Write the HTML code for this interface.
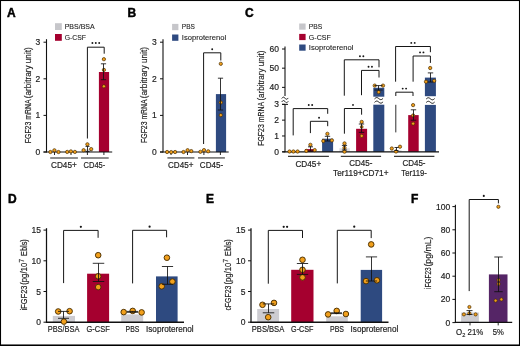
<!DOCTYPE html><html><head><meta charset="utf-8"><style>html,body{margin:0;padding:0;background:#fff;}svg{display:block;will-change:transform;font-family:"Liberation Sans",sans-serif;}</style></head><body><svg width="520" height="346" viewBox="0 0 520 346">
<rect x="0" y="0" width="520" height="346" fill="#fff"/>
<rect x="55" y="23.2" width="6.8" height="6.8" fill="#c6c6ca"/>
<rect x="55" y="34" width="6.8" height="6.8" fill="#a5002f"/>
<rect x="82.6" y="149.4" width="10" height="2.6" fill="#cdccd1"/>
<rect x="98.9" y="72" width="10.2" height="80" fill="#a5002f"/>
<rect x="172.1" y="23.9" width="6.3" height="6.3" fill="#c6c6ca"/>
<rect x="172.1" y="34.5" width="6.3" height="6.3" fill="#2e4a80"/>
<rect x="215.9" y="94.1" width="10.2" height="58" fill="#2e4a80"/>
<rect x="299.2" y="23.5" width="6.4" height="6.2" fill="#c6c6ca"/>
<rect x="299.2" y="33.9" width="6.4" height="6.2" fill="#a5002f"/>
<rect x="299.2" y="44.5" width="6.4" height="6.2" fill="#2e4a80"/>
<rect x="305.2" y="149.1" width="10.7" height="2.8" fill="#a5002f"/>
<rect x="322.1" y="138.7" width="11" height="13.2" fill="#2e4a80"/>
<rect x="339.3" y="148.2" width="10.5" height="3.7" fill="#e0e0e4"/>
<rect x="356.1" y="128.8" width="11" height="23.1" fill="#a5002f"/>
<rect x="373.3" y="87.8" width="11" height="8.9" fill="#2e4a80"/>
<rect x="373.3" y="104.7" width="11" height="47.2" fill="#2e4a80"/>
<rect x="390.5" y="150" width="11" height="1.9" fill="#e0e0e4"/>
<rect x="408.2" y="115.1" width="10.5" height="36.8" fill="#a5002f"/>
<rect x="424.9" y="77.6" width="11" height="18.6" fill="#2e4a80"/>
<rect x="424.9" y="104.9" width="11" height="47" fill="#2e4a80"/>
<rect x="52.8" y="315.9" width="22.2" height="6.3" fill="#cdccd1"/>
<rect x="87.1" y="273.7" width="22" height="48.5" fill="#a5002f"/>
<rect x="121.2" y="314.4" width="22" height="7.8" fill="#cdccd1"/>
<rect x="156" y="276.4" width="21.6" height="45.8" fill="#2e4a80"/>
<rect x="257.2" y="309" width="21.9" height="13.2" fill="#cdccd1"/>
<rect x="291.2" y="269.8" width="22.3" height="52.4" fill="#a5002f"/>
<rect x="326.2" y="316.3" width="21.6" height="5.9" fill="#cdccd1"/>
<rect x="360.7" y="269.9" width="21.4" height="52.3" fill="#2e4a80"/>
<rect x="461.1" y="312.5" width="17.8" height="9.9" fill="#cdccd1"/>
<rect x="488.9" y="274.4" width="18.6" height="48" fill="#552566"/>
<line x1="46.5" y1="39.2" x2="46.5" y2="152.5" stroke="#111111" stroke-width="1.1"/>
<line x1="43.5" y1="152.0" x2="46.5" y2="152.0" stroke="#111111" stroke-width="1.0"/>
<line x1="43.5" y1="115.4" x2="46.5" y2="115.4" stroke="#111111" stroke-width="1.0"/>
<line x1="43.5" y1="78.8" x2="46.5" y2="78.8" stroke="#111111" stroke-width="1.0"/>
<line x1="43.5" y1="42.19999999999999" x2="46.5" y2="42.19999999999999" stroke="#111111" stroke-width="1.0"/>
<line x1="43.5" y1="152.0" x2="112.2" y2="152.0" stroke="#111111" stroke-width="1.2"/>
<line x1="54.5" y1="152.0" x2="54.5" y2="155.0" stroke="#111111" stroke-width="0.9"/>
<line x1="71.0" y1="152.0" x2="71.0" y2="155.0" stroke="#111111" stroke-width="0.9"/>
<line x1="87.4" y1="152.0" x2="87.4" y2="155.0" stroke="#111111" stroke-width="0.9"/>
<line x1="103.9" y1="152.0" x2="103.9" y2="155.0" stroke="#111111" stroke-width="0.9"/>
<polyline points="87.4,138.5 87.4,47.2 104.2,47.2 104.2,53.7" fill="none" stroke="#161616" stroke-width="1.0"/>
<circle cx="92.4" cy="43.00" r="0.95" fill="#161616"/>
<circle cx="95.80000000000001" cy="43.00" r="0.95" fill="#161616"/>
<circle cx="99.20000000000002" cy="43.00" r="0.95" fill="#161616"/>
<line x1="50.2" y1="158" x2="77.9" y2="158" stroke="#7a7a7a" stroke-width="1.7"/>
<line x1="81" y1="158" x2="108.7" y2="158" stroke="#7a7a7a" stroke-width="1.7"/>
<line x1="163.0" y1="39.2" x2="163.0" y2="152.5" stroke="#111111" stroke-width="1.1"/>
<line x1="160.0" y1="152.0" x2="163.0" y2="152.0" stroke="#111111" stroke-width="1.0"/>
<line x1="160.0" y1="115.4" x2="163.0" y2="115.4" stroke="#111111" stroke-width="1.0"/>
<line x1="160.0" y1="78.8" x2="163.0" y2="78.8" stroke="#111111" stroke-width="1.0"/>
<line x1="160.0" y1="42.19999999999999" x2="163.0" y2="42.19999999999999" stroke="#111111" stroke-width="1.0"/>
<line x1="160.0" y1="152.0" x2="228.7" y2="152.0" stroke="#111111" stroke-width="1.2"/>
<line x1="171.0" y1="152.0" x2="171.0" y2="155.0" stroke="#111111" stroke-width="0.9"/>
<line x1="187.5" y1="152.0" x2="187.5" y2="155.0" stroke="#111111" stroke-width="0.9"/>
<line x1="203.9" y1="152.0" x2="203.9" y2="155.0" stroke="#111111" stroke-width="0.9"/>
<line x1="220.4" y1="152.0" x2="220.4" y2="155.0" stroke="#111111" stroke-width="0.9"/>
<polyline points="203.6,144 203.6,52.8 220.8,52.8 220.8,60.5" fill="none" stroke="#161616" stroke-width="1.0"/>
<circle cx="212.2" cy="49.20" r="0.95" fill="#161616"/>
<line x1="167.4" y1="157.9" x2="194.4" y2="157.9" stroke="#7a7a7a" stroke-width="1.7"/>
<line x1="198" y1="157.9" x2="224.9" y2="157.9" stroke="#7a7a7a" stroke-width="1.7"/>
<line x1="285.0" y1="46.6" x2="285.0" y2="96.0" stroke="#111111" stroke-width="1.1"/>
<line x1="285.0" y1="104.4" x2="285.0" y2="152.3" stroke="#111111" stroke-width="1.1"/>
<line x1="282.0" y1="49.0" x2="285.0" y2="49.0" stroke="#111111" stroke-width="1.0"/>
<line x1="282.0" y1="68.18" x2="285.0" y2="68.18" stroke="#111111" stroke-width="1.0"/>
<line x1="282.0" y1="87.36" x2="285.0" y2="87.36" stroke="#111111" stroke-width="1.0"/>
<line x1="282.0" y1="104.31" x2="285.0" y2="104.31" stroke="#111111" stroke-width="1.0"/>
<line x1="282.0" y1="120.14000000000001" x2="285.0" y2="120.14000000000001" stroke="#111111" stroke-width="1.0"/>
<line x1="282.0" y1="135.97" x2="285.0" y2="135.97" stroke="#111111" stroke-width="1.0"/>
<line x1="282.0" y1="151.8" x2="285.0" y2="151.8" stroke="#111111" stroke-width="1.0"/>
<polyline points="281.75,98.45 282.16,97.98 282.56,97.57 282.97,97.29 283.38,97.17 283.78,97.23 284.19,97.45 284.59,97.79 285.00,98.20 285.41,98.61 285.81,98.95 286.22,99.17 286.62,99.23 287.03,99.11 287.44,98.83 287.84,98.42 288.25,97.95" fill="none" stroke="#111" stroke-width="1.0" stroke-linejoin="round"/>
<polyline points="281.75,101.85 282.16,101.38 282.56,100.97 282.97,100.69 283.38,100.57 283.78,100.63 284.19,100.85 284.59,101.19 285.00,101.60 285.41,102.01 285.81,102.35 286.22,102.57 286.62,102.62 287.03,102.51 287.44,102.23 287.84,101.82 288.25,101.35" fill="none" stroke="#111" stroke-width="1.0" stroke-linejoin="round"/>
<line x1="282.0" y1="104.4" x2="288.0" y2="104.4" stroke="#111111" stroke-width="1.0"/>
<line x1="282.3" y1="151.9" x2="439" y2="151.9" stroke="#111111" stroke-width="1.1"/>
<polyline points="293.2,135.4 293.2,108.6 327.7,108.6 327.7,113.8" fill="none" stroke="#161616" stroke-width="1.0"/>
<circle cx="308.75" cy="105.00" r="0.95" fill="#161616"/>
<circle cx="312.15" cy="105.00" r="0.95" fill="#161616"/>
<polyline points="310.4,133.1 310.4,121.3 327.7,121.3 327.7,126.2" fill="none" stroke="#161616" stroke-width="1.0"/>
<circle cx="319.04999999999995" cy="117.70" r="0.95" fill="#161616"/>
<polyline points="374.55,98.85 375.08,98.38 375.61,97.97 376.14,97.69 376.68,97.57 377.21,97.63 377.74,97.85 378.27,98.19 378.80,98.60 379.33,99.01 379.86,99.35 380.39,99.57 380.93,99.62 381.46,99.51 381.99,99.23 382.52,98.82 383.05,98.35" fill="none" stroke="#111" stroke-width="1.0" stroke-linejoin="round"/>
<polyline points="374.55,102.35 375.08,101.88 375.61,101.47 376.14,101.19 376.68,101.07 377.21,101.13 377.74,101.35 378.27,101.69 378.80,102.10 379.33,102.51 379.86,102.85 380.39,103.07 380.93,103.12 381.46,103.01 381.99,102.73 382.52,102.32 383.05,101.85" fill="none" stroke="#111" stroke-width="1.0" stroke-linejoin="round"/>
<polyline points="344.3,95.7 344.3,59.8 379,59.8 379,67.3" fill="none" stroke="#161616" stroke-width="1.0"/>
<circle cx="359.95" cy="56.20" r="0.95" fill="#161616"/>
<circle cx="363.34999999999997" cy="56.20" r="0.95" fill="#161616"/>
<polyline points="361.5,95.2 361.5,70.4 379,70.4 379,77.5" fill="none" stroke="#161616" stroke-width="1.0"/>
<circle cx="368.55" cy="66.80" r="0.95" fill="#161616"/>
<circle cx="371.95" cy="66.80" r="0.95" fill="#161616"/>
<polyline points="344.4,133.7 344.4,108.5 361.6,108.5 361.6,114.7" fill="none" stroke="#161616" stroke-width="1.0"/>
<circle cx="353.0" cy="104.90" r="0.95" fill="#161616"/>
<polyline points="426.15,99.05 426.68,98.58 427.21,98.17 427.74,97.89 428.27,97.77 428.81,97.83 429.34,98.05 429.87,98.39 430.40,98.80 430.93,99.21 431.46,99.55 431.99,99.77 432.52,99.83 433.06,99.71 433.59,99.43 434.12,99.02 434.65,98.55" fill="none" stroke="#111" stroke-width="1.0" stroke-linejoin="round"/>
<polyline points="426.15,102.55 426.68,102.08 427.21,101.67 427.74,101.39 428.27,101.27 428.81,101.33 429.34,101.55 429.87,101.89 430.40,102.30 430.93,102.71 431.46,103.05 431.99,103.27 432.52,103.33 433.06,103.21 433.59,102.93 434.12,102.52 434.65,102.05" fill="none" stroke="#111" stroke-width="1.0" stroke-linejoin="round"/>
<polyline points="395.6,81.7 395.6,46.5 430.4,46.5 430.4,52.2" fill="none" stroke="#161616" stroke-width="1.0"/>
<circle cx="411.3" cy="42.90" r="0.95" fill="#161616"/>
<circle cx="414.7" cy="42.90" r="0.95" fill="#161616"/>
<polyline points="413.1,81.7 413.1,56.0 430.4,56.0 430.4,62.9" fill="none" stroke="#161616" stroke-width="1.0"/>
<circle cx="420.05" cy="52.40" r="0.95" fill="#161616"/>
<circle cx="423.45" cy="52.40" r="0.95" fill="#161616"/>
<polyline points="395.8,96.0 395.8,92.2 413.0,92.2 413.0,96.0" fill="none" stroke="#161616" stroke-width="1.0"/>
<circle cx="402.7" cy="88.60" r="0.95" fill="#161616"/>
<circle cx="406.09999999999997" cy="88.60" r="0.95" fill="#161616"/>
<line x1="395.8" y1="104.8" x2="395.8" y2="132.4" stroke="#161616" stroke-width="0.9"/>
<line x1="288" y1="156.4" x2="328.9" y2="156.4" stroke="#383838" stroke-width="1.3"/>
<line x1="340.8" y1="156.4" x2="381.1" y2="156.4" stroke="#383838" stroke-width="1.3"/>
<line x1="394" y1="156.4" x2="434.4" y2="156.4" stroke="#383838" stroke-width="1.3"/>
<line x1="46.5" y1="228.2" x2="46.5" y2="322.8" stroke="#111111" stroke-width="1.25"/>
<line x1="43.5" y1="322.2" x2="46.5" y2="322.2" stroke="#111111" stroke-width="1.0"/>
<line x1="43.5" y1="291.5" x2="46.5" y2="291.5" stroke="#111111" stroke-width="1.0"/>
<line x1="43.5" y1="260.8" x2="46.5" y2="260.8" stroke="#111111" stroke-width="1.0"/>
<line x1="43.5" y1="230.1" x2="46.5" y2="230.1" stroke="#111111" stroke-width="1.0"/>
<line x1="45.9" y1="322.2" x2="184.0" y2="322.2" stroke="#111111" stroke-width="1.35"/>
<polyline points="63.6,283.1 63.6,230.4 98.1,230.4 98.1,237.8" fill="none" stroke="#161616" stroke-width="1.0"/>
<circle cx="80.85" cy="226.80" r="1.12" fill="#161616"/>
<polyline points="132.6,283.4 132.6,230.3 166.6,230.3 166.6,237.3" fill="none" stroke="#161616" stroke-width="1.0"/>
<circle cx="149.6" cy="226.70" r="1.12" fill="#161616"/>
<line x1="251.0" y1="228.2" x2="251.0" y2="322.8" stroke="#111111" stroke-width="1.25"/>
<line x1="248.0" y1="322.2" x2="251.0" y2="322.2" stroke="#111111" stroke-width="1.0"/>
<line x1="248.0" y1="291.5" x2="251.0" y2="291.5" stroke="#111111" stroke-width="1.0"/>
<line x1="248.0" y1="260.8" x2="251.0" y2="260.8" stroke="#111111" stroke-width="1.0"/>
<line x1="248.0" y1="230.1" x2="251.0" y2="230.1" stroke="#111111" stroke-width="1.0"/>
<line x1="250.4" y1="322.2" x2="388.5" y2="322.2" stroke="#111111" stroke-width="1.35"/>
<polyline points="268.3,283.7 268.3,230.4 302.5,230.4 302.5,238" fill="none" stroke="#161616" stroke-width="1.0"/>
<circle cx="283.7" cy="226.80" r="1.12" fill="#161616"/>
<circle cx="287.09999999999997" cy="226.80" r="1.12" fill="#161616"/>
<polyline points="337.3,283.4 337.3,230.3 371.2,230.3 371.2,238.1" fill="none" stroke="#161616" stroke-width="1.0"/>
<circle cx="354.25" cy="226.70" r="1.12" fill="#161616"/>
<line x1="455.4" y1="204.7" x2="455.4" y2="323" stroke="#111111" stroke-width="1.1"/>
<line x1="452.4" y1="322.6" x2="455.4" y2="322.6" stroke="#111111" stroke-width="1.0"/>
<line x1="452.4" y1="299.40000000000003" x2="455.4" y2="299.40000000000003" stroke="#111111" stroke-width="1.0"/>
<line x1="452.4" y1="276.20000000000005" x2="455.4" y2="276.20000000000005" stroke="#111111" stroke-width="1.0"/>
<line x1="452.4" y1="253.00000000000003" x2="455.4" y2="253.00000000000003" stroke="#111111" stroke-width="1.0"/>
<line x1="452.4" y1="229.8" x2="455.4" y2="229.8" stroke="#111111" stroke-width="1.0"/>
<line x1="452.4" y1="206.60000000000002" x2="455.4" y2="206.60000000000002" stroke="#111111" stroke-width="1.0"/>
<line x1="454.79999999999995" y1="322.4" x2="512.2" y2="322.4" stroke="#111111" stroke-width="1.35"/>
<line x1="470" y1="322.4" x2="470" y2="325.4" stroke="#111111" stroke-width="0.9"/>
<line x1="498.2" y1="322.4" x2="498.2" y2="325.4" stroke="#111111" stroke-width="0.9"/>
<polyline points="469.2,291.1 469.2,199.5 498.4,199.5 498.4,203.4" fill="none" stroke="#161616" stroke-width="1.0"/>
<circle cx="483.79999999999995" cy="195.90" r="1.05" fill="#161616"/>
<circle cx="50.4" cy="152" r="1.65" fill="#f2a01c" stroke="#4a2e00" stroke-width="0.7"/>
<circle cx="54.4" cy="150.3" r="1.65" fill="#f2a01c" stroke="#4a2e00" stroke-width="0.7"/>
<circle cx="58.5" cy="152" r="1.65" fill="#f2a01c" stroke="#4a2e00" stroke-width="0.7"/>
<circle cx="67.2" cy="151.9" r="1.65" fill="#f2a01c" stroke="#4a2e00" stroke-width="0.7"/>
<circle cx="70.9" cy="151.4" r="1.65" fill="#f2a01c" stroke="#4a2e00" stroke-width="0.7"/>
<circle cx="74.9" cy="151.9" r="1.65" fill="#f2a01c" stroke="#4a2e00" stroke-width="0.7"/>
<circle cx="83.6" cy="150.2" r="1.65" fill="#f2a01c" stroke="#4a2e00" stroke-width="0.7"/>
<circle cx="87.4" cy="144.3" r="1.65" fill="#f2a01c" stroke="#4a2e00" stroke-width="0.7"/>
<circle cx="91.2" cy="149.1" r="1.65" fill="#f2a01c" stroke="#4a2e00" stroke-width="0.7"/>
<circle cx="103.9" cy="59.2" r="1.65" fill="#f2a01c" stroke="#4a2e00" stroke-width="0.7"/>
<circle cx="103.9" cy="69.9" r="1.65" fill="#f2a01c" stroke="#4a2e00" stroke-width="0.7"/>
<circle cx="103.9" cy="86.3" r="1.65" fill="#f2a01c" stroke="#4a2e00" stroke-width="0.7"/>
<circle cx="167.1" cy="152" r="1.65" fill="#f2a01c" stroke="#4a2e00" stroke-width="0.7"/>
<circle cx="171.2" cy="152.1" r="1.65" fill="#f2a01c" stroke="#4a2e00" stroke-width="0.7"/>
<circle cx="175.1" cy="152" r="1.65" fill="#f2a01c" stroke="#4a2e00" stroke-width="0.7"/>
<circle cx="183.5" cy="152" r="1.65" fill="#f2a01c" stroke="#4a2e00" stroke-width="0.7"/>
<circle cx="187.6" cy="150.2" r="1.65" fill="#f2a01c" stroke="#4a2e00" stroke-width="0.7"/>
<circle cx="191.3" cy="151.1" r="1.65" fill="#f2a01c" stroke="#4a2e00" stroke-width="0.7"/>
<circle cx="200.4" cy="151.8" r="1.65" fill="#f2a01c" stroke="#4a2e00" stroke-width="0.7"/>
<circle cx="204.0" cy="150.1" r="1.65" fill="#f2a01c" stroke="#4a2e00" stroke-width="0.7"/>
<circle cx="208.2" cy="151.3" r="1.65" fill="#f2a01c" stroke="#4a2e00" stroke-width="0.7"/>
<circle cx="220.8" cy="63.8" r="1.65" fill="#f2a01c" stroke="#4a2e00" stroke-width="0.7"/>
<circle cx="220.8" cy="102.5" r="1.65" fill="#f2a01c" stroke="#4a2e00" stroke-width="0.7"/>
<circle cx="220.8" cy="115.1" r="1.65" fill="#f2a01c" stroke="#4a2e00" stroke-width="0.7"/>
<circle cx="289.5" cy="151.5" r="1.65" fill="#f2a01c" stroke="#4a2e00" stroke-width="0.7"/>
<circle cx="293.4" cy="151.5" r="1.65" fill="#f2a01c" stroke="#4a2e00" stroke-width="0.7"/>
<circle cx="297.6" cy="151.5" r="1.65" fill="#f2a01c" stroke="#4a2e00" stroke-width="0.7"/>
<circle cx="306.3" cy="150.9" r="1.65" fill="#f2a01c" stroke="#4a2e00" stroke-width="0.7"/>
<circle cx="310.4" cy="144.8" r="1.65" fill="#f2a01c" stroke="#4a2e00" stroke-width="0.7"/>
<circle cx="314.7" cy="150.1" r="1.65" fill="#f2a01c" stroke="#4a2e00" stroke-width="0.7"/>
<circle cx="327.4" cy="133.8" r="1.65" fill="#f2a01c" stroke="#4a2e00" stroke-width="0.7"/>
<circle cx="323.3" cy="141" r="1.65" fill="#f2a01c" stroke="#4a2e00" stroke-width="0.7"/>
<circle cx="331.9" cy="140.4" r="1.65" fill="#f2a01c" stroke="#4a2e00" stroke-width="0.7"/>
<circle cx="344.5" cy="143.4" r="1.65" fill="#f2a01c" stroke="#4a2e00" stroke-width="0.7"/>
<circle cx="344.5" cy="147.8" r="1.65" fill="#f2a01c" stroke="#4a2e00" stroke-width="0.7"/>
<circle cx="344.5" cy="151.7" r="1.65" fill="#f2a01c" stroke="#4a2e00" stroke-width="0.7"/>
<circle cx="361.7" cy="121.9" r="1.65" fill="#f2a01c" stroke="#4a2e00" stroke-width="0.7"/>
<circle cx="361.7" cy="126.9" r="1.4" fill="#f2a01c" stroke="#4a2e00" stroke-width="0.7"/>
<circle cx="361.7" cy="135.9" r="1.65" fill="#f2a01c" stroke="#4a2e00" stroke-width="0.7"/>
<circle cx="374.7" cy="85.6" r="1.65" fill="#f2a01c" stroke="#4a2e00" stroke-width="0.7"/>
<circle cx="383" cy="85.6" r="1.65" fill="#f2a01c" stroke="#4a2e00" stroke-width="0.7"/>
<circle cx="378.7" cy="92.1" r="1.65" fill="#f2a01c" stroke="#4a2e00" stroke-width="0.7"/>
<circle cx="391.8" cy="148.5" r="1.65" fill="#f2a01c" stroke="#4a2e00" stroke-width="0.7"/>
<circle cx="396" cy="151.5" r="1.65" fill="#f2a01c" stroke="#4a2e00" stroke-width="0.7"/>
<circle cx="400" cy="146.7" r="1.65" fill="#f2a01c" stroke="#4a2e00" stroke-width="0.7"/>
<circle cx="413.1" cy="105.1" r="1.65" fill="#f2a01c" stroke="#4a2e00" stroke-width="0.7"/>
<circle cx="413.1" cy="115.5" r="1.65" fill="#f2a01c" stroke="#4a2e00" stroke-width="0.7"/>
<circle cx="413.1" cy="123.6" r="1.65" fill="#f2a01c" stroke="#4a2e00" stroke-width="0.7"/>
<circle cx="430.2" cy="68" r="1.65" fill="#f2a01c" stroke="#4a2e00" stroke-width="0.7"/>
<circle cx="426" cy="81.7" r="1.65" fill="#f2a01c" stroke="#4a2e00" stroke-width="0.7"/>
<circle cx="434.2" cy="80.8" r="1.65" fill="#f2a01c" stroke="#4a2e00" stroke-width="0.7"/>
<circle cx="58.2" cy="311.5" r="2.8" fill="#f2a01c" stroke="#4a2e00" stroke-width="0.95"/>
<circle cx="69.6" cy="311.2" r="2.8" fill="#f2a01c" stroke="#4a2e00" stroke-width="0.95"/>
<circle cx="63.9" cy="321.6" r="2.8" fill="#f2a01c" stroke="#4a2e00" stroke-width="0.95"/>
<circle cx="98.2" cy="255.2" r="2.8" fill="#f2a01c" stroke="#4a2e00" stroke-width="0.95"/>
<circle cx="98.2" cy="276.3" r="2.8" fill="#f2a01c" stroke="#4a2e00" stroke-width="0.95"/>
<circle cx="98.2" cy="287.1" r="2.8" fill="#f2a01c" stroke="#4a2e00" stroke-width="0.95"/>
<circle cx="123.7" cy="312.1" r="2.8" fill="#f2a01c" stroke="#4a2e00" stroke-width="0.95"/>
<circle cx="132.7" cy="310.9" r="2.8" fill="#f2a01c" stroke="#4a2e00" stroke-width="0.95"/>
<circle cx="141.6" cy="312.4" r="2.8" fill="#f2a01c" stroke="#4a2e00" stroke-width="0.95"/>
<circle cx="166.9" cy="257.7" r="2.8" fill="#f2a01c" stroke="#4a2e00" stroke-width="0.95"/>
<circle cx="161.7" cy="286.3" r="2.8" fill="#f2a01c" stroke="#4a2e00" stroke-width="0.95"/>
<circle cx="172.4" cy="281.6" r="2.8" fill="#f2a01c" stroke="#4a2e00" stroke-width="0.95"/>
<circle cx="262.5" cy="304.8" r="2.8" fill="#f2a01c" stroke="#4a2e00" stroke-width="0.95"/>
<circle cx="274" cy="302.9" r="2.8" fill="#f2a01c" stroke="#4a2e00" stroke-width="0.95"/>
<circle cx="268.2" cy="317.2" r="2.8" fill="#f2a01c" stroke="#4a2e00" stroke-width="0.95"/>
<circle cx="302.5" cy="259.8" r="2.8" fill="#f2a01c" stroke="#4a2e00" stroke-width="0.95"/>
<circle cx="302.5" cy="269.8" r="2.8" fill="#f2a01c" stroke="#4a2e00" stroke-width="0.95"/>
<circle cx="302.5" cy="277.4" r="2.8" fill="#f2a01c" stroke="#4a2e00" stroke-width="0.95"/>
<circle cx="328.1" cy="314.4" r="2.8" fill="#f2a01c" stroke="#4a2e00" stroke-width="0.95"/>
<circle cx="336.7" cy="310.9" r="2.8" fill="#f2a01c" stroke="#4a2e00" stroke-width="0.95"/>
<circle cx="345.9" cy="314" r="2.8" fill="#f2a01c" stroke="#4a2e00" stroke-width="0.95"/>
<circle cx="371.2" cy="244.4" r="2.8" fill="#f2a01c" stroke="#4a2e00" stroke-width="0.95"/>
<circle cx="366" cy="281.1" r="2.8" fill="#f2a01c" stroke="#4a2e00" stroke-width="0.95"/>
<circle cx="376.9" cy="280.3" r="2.8" fill="#f2a01c" stroke="#4a2e00" stroke-width="0.95"/>
<circle cx="463.9" cy="314.4" r="1.6" fill="#f2a01c" stroke="#4a2e00" stroke-width="0.7"/>
<circle cx="469.4" cy="307" r="1.6" fill="#f2a01c" stroke="#4a2e00" stroke-width="0.7"/>
<circle cx="475.6" cy="314.4" r="1.6" fill="#f2a01c" stroke="#4a2e00" stroke-width="0.7"/>
<circle cx="469.4" cy="313.3" r="1.6" fill="#f2a01c" stroke="#4a2e00" stroke-width="0.7"/>
<circle cx="498.6" cy="280" r="1.6" fill="#f2a01c" stroke="#4a2e00" stroke-width="0.7"/>
<circle cx="498.6" cy="283.9" r="1.6" fill="#f2a01c" stroke="#4a2e00" stroke-width="0.7"/>
<circle cx="495.6" cy="300.6" r="1.6" fill="#f2a01c" stroke="#4a2e00" stroke-width="0.7"/>
<circle cx="501.4" cy="299.4" r="1.6" fill="#f2a01c" stroke="#4a2e00" stroke-width="0.7"/>
<circle cx="498.4" cy="206.8" r="1.6" fill="#f2a01c" stroke="#4a2e00" stroke-width="0.7"/>
<line x1="87.5" y1="146.4" x2="87.5" y2="151.6" stroke="#111" stroke-width="0.85"/>
<line x1="85.5" y1="146.4" x2="89.5" y2="146.4" stroke="#111" stroke-width="0.85"/>
<line x1="85.5" y1="151.6" x2="89.5" y2="151.6" stroke="#111" stroke-width="0.85"/>
<line x1="103.5" y1="63.8" x2="103.5" y2="79.7" stroke="#111" stroke-width="0.85"/>
<line x1="100.9" y1="63.8" x2="106.1" y2="63.8" stroke="#111" stroke-width="0.85"/>
<line x1="100.9" y1="79.7" x2="106.1" y2="79.7" stroke="#111" stroke-width="0.85"/>
<line x1="220.5" y1="78.2" x2="220.5" y2="110" stroke="#111" stroke-width="0.85"/>
<line x1="217.9" y1="78.2" x2="223.1" y2="78.2" stroke="#111" stroke-width="0.85"/>
<line x1="217.9" y1="110" x2="223.1" y2="110" stroke="#111" stroke-width="0.85"/>
<line x1="310.5" y1="146.8" x2="310.5" y2="151" stroke="#111" stroke-width="0.85"/>
<line x1="308.0" y1="146.8" x2="313.0" y2="146.8" stroke="#111" stroke-width="0.85"/>
<line x1="308.0" y1="151" x2="313.0" y2="151" stroke="#111" stroke-width="0.85"/>
<line x1="327.5" y1="136.3" x2="327.5" y2="141" stroke="#111" stroke-width="0.85"/>
<line x1="324.8" y1="136.3" x2="330.2" y2="136.3" stroke="#111" stroke-width="0.85"/>
<line x1="324.8" y1="141" x2="330.2" y2="141" stroke="#111" stroke-width="0.85"/>
<line x1="344.5" y1="145.4" x2="344.5" y2="150" stroke="#111" stroke-width="0.85"/>
<line x1="341.9" y1="145.4" x2="347.1" y2="145.4" stroke="#111" stroke-width="0.85"/>
<line x1="341.9" y1="150" x2="347.1" y2="150" stroke="#111" stroke-width="0.85"/>
<line x1="361.5" y1="124" x2="361.5" y2="132.4" stroke="#111" stroke-width="0.85"/>
<line x1="358.8" y1="124" x2="364.2" y2="124" stroke="#111" stroke-width="0.85"/>
<line x1="358.8" y1="132.4" x2="364.2" y2="132.4" stroke="#111" stroke-width="0.85"/>
<line x1="378.5" y1="85.6" x2="378.5" y2="90" stroke="#111" stroke-width="0.85"/>
<line x1="374.35" y1="85.6" x2="382.65" y2="85.6" stroke="#111" stroke-width="0.85"/>
<line x1="374.35" y1="90" x2="382.65" y2="90" stroke="#111" stroke-width="0.85"/>
<line x1="396.5" y1="147.5" x2="396.5" y2="150.5" stroke="#111" stroke-width="0.85"/>
<line x1="394.5" y1="147.5" x2="398.5" y2="147.5" stroke="#111" stroke-width="0.85"/>
<line x1="394.5" y1="150.5" x2="398.5" y2="150.5" stroke="#111" stroke-width="0.85"/>
<line x1="413.5" y1="109.8" x2="413.5" y2="120.2" stroke="#111" stroke-width="0.85"/>
<line x1="410.8" y1="109.8" x2="416.2" y2="109.8" stroke="#111" stroke-width="0.85"/>
<line x1="410.8" y1="120.2" x2="416.2" y2="120.2" stroke="#111" stroke-width="0.85"/>
<line x1="430.5" y1="72.9" x2="430.5" y2="82" stroke="#111" stroke-width="0.85"/>
<line x1="427.8" y1="72.9" x2="433.2" y2="72.9" stroke="#111" stroke-width="0.85"/>
<line x1="427.8" y1="82" x2="433.2" y2="82" stroke="#111" stroke-width="0.85"/>
<line x1="63.5" y1="311.4" x2="63.5" y2="318.3" stroke="#111" stroke-width="0.85"/>
<line x1="58.0" y1="311.4" x2="69.0" y2="311.4" stroke="#111" stroke-width="0.85"/>
<line x1="58.0" y1="318.3" x2="69.0" y2="318.3" stroke="#111" stroke-width="0.85"/>
<line x1="98.5" y1="263.3" x2="98.5" y2="281.5" stroke="#111" stroke-width="0.85"/>
<line x1="92.75" y1="263.3" x2="104.25" y2="263.3" stroke="#111" stroke-width="0.85"/>
<line x1="92.75" y1="281.5" x2="104.25" y2="281.5" stroke="#111" stroke-width="0.85"/>
<line x1="132.5" y1="311.4" x2="132.5" y2="312.3" stroke="#111" stroke-width="0.85"/>
<line x1="127.0" y1="311.4" x2="138.0" y2="311.4" stroke="#111" stroke-width="0.85"/>
<line x1="127.0" y1="312.3" x2="138.0" y2="312.3" stroke="#111" stroke-width="0.85"/>
<line x1="167.5" y1="266.5" x2="167.5" y2="284.3" stroke="#111" stroke-width="0.85"/>
<line x1="161.9" y1="266.5" x2="173.1" y2="266.5" stroke="#111" stroke-width="0.85"/>
<line x1="161.9" y1="284.3" x2="173.1" y2="284.3" stroke="#111" stroke-width="0.85"/>
<line x1="268.5" y1="303.9" x2="268.5" y2="312.8" stroke="#111" stroke-width="0.85"/>
<line x1="262.75" y1="303.9" x2="274.25" y2="303.9" stroke="#111" stroke-width="0.85"/>
<line x1="262.75" y1="312.8" x2="274.25" y2="312.8" stroke="#111" stroke-width="0.85"/>
<line x1="302.5" y1="263.5" x2="302.5" y2="274.4" stroke="#111" stroke-width="0.85"/>
<line x1="296.85" y1="263.5" x2="308.15" y2="263.5" stroke="#111" stroke-width="0.85"/>
<line x1="296.85" y1="274.4" x2="308.15" y2="274.4" stroke="#111" stroke-width="0.85"/>
<line x1="336.5" y1="312.8" x2="336.5" y2="313.6" stroke="#111" stroke-width="0.85"/>
<line x1="331.0" y1="312.8" x2="342.0" y2="312.8" stroke="#111" stroke-width="0.85"/>
<line x1="331.0" y1="313.6" x2="342.0" y2="313.6" stroke="#111" stroke-width="0.85"/>
<line x1="371.5" y1="256.9" x2="371.5" y2="281" stroke="#111" stroke-width="0.85"/>
<line x1="365.9" y1="256.9" x2="377.1" y2="256.9" stroke="#111" stroke-width="0.85"/>
<line x1="365.9" y1="281" x2="377.1" y2="281" stroke="#111" stroke-width="0.85"/>
<line x1="469.5" y1="310.6" x2="469.5" y2="314.5" stroke="#111" stroke-width="0.85"/>
<line x1="466.5" y1="310.6" x2="472.5" y2="310.6" stroke="#111" stroke-width="0.85"/>
<line x1="466.5" y1="314.5" x2="472.5" y2="314.5" stroke="#111" stroke-width="0.85"/>
<line x1="498.5" y1="257" x2="498.5" y2="291.7" stroke="#111" stroke-width="0.85"/>
<line x1="494.3" y1="257" x2="502.7" y2="257" stroke="#111" stroke-width="0.85"/>
<line x1="494.3" y1="291.7" x2="502.7" y2="291.7" stroke="#111" stroke-width="0.85"/>
<text x="7" y="16.7" font-size="12" text-anchor="start" fill="#000" font-weight="bold" stroke="#000" stroke-width="0.45" >A</text>
<text x="127.6" y="16.6" font-size="12" text-anchor="start" fill="#000" font-weight="bold" stroke="#000" stroke-width="0.45" >B</text>
<text x="244.9" y="16.8" font-size="12" text-anchor="start" fill="#000" font-weight="bold" stroke="#000" stroke-width="0.45" >C</text>
<text x="8.1" y="203.1" font-size="12" text-anchor="start" fill="#000" font-weight="bold" stroke="#000" stroke-width="0.45" >D</text>
<text x="206.1" y="203.1" font-size="12" text-anchor="start" fill="#000" font-weight="bold" stroke="#000" stroke-width="0.45" >E</text>
<text x="410.9" y="202.9" font-size="12" text-anchor="start" fill="#000" font-weight="bold" stroke="#000" stroke-width="0.45" >F</text>
<text x="40.3" y="155.0" font-size="8.5" text-anchor="end" fill="#1e1e1e" font-weight="normal" stroke="#1e1e1e" stroke-width="0.18" >0</text>
<text x="40.3" y="118.4" font-size="8.5" text-anchor="end" fill="#1e1e1e" font-weight="normal" stroke="#1e1e1e" stroke-width="0.18" >1</text>
<text x="40.3" y="81.8" font-size="8.5" text-anchor="end" fill="#1e1e1e" font-weight="normal" stroke="#1e1e1e" stroke-width="0.18" >2</text>
<text x="40.3" y="45.19999999999999" font-size="8.5" text-anchor="end" fill="#1e1e1e" font-weight="normal" stroke="#1e1e1e" stroke-width="0.18" >3</text>
<text x="64.7" y="29.0" font-size="7.5" text-anchor="start" fill="#1e1e1e" font-weight="normal" stroke="#1e1e1e" stroke-width="0.1" textLength="30" lengthAdjust="spacingAndGlyphs" >PBS/BSA</text>
<text x="64.7" y="39.8" font-size="7.5" text-anchor="start" fill="#1e1e1e" font-weight="normal" stroke="#1e1e1e" stroke-width="0.1" textLength="21.3" lengthAdjust="spacingAndGlyphs" >G-CSF</text>
<text transform="translate(30.6,143.2) rotate(-90)" x="0" y="0" font-size="9.8" fill="#1e1e1e" stroke="#1e1e1e" stroke-width="0.18" textLength="43.80" lengthAdjust="spacingAndGlyphs">FGF23 mRNA</text>
<text transform="translate(30.6,98.2) rotate(-90)" x="0" y="0" font-size="9.8" fill="#1e1e1e" stroke="#1e1e1e" stroke-width="0.18" textLength="50.90" lengthAdjust="spacingAndGlyphs">(arbitrary unit)</text>
<text x="63.9" y="168.2" font-size="8.3" text-anchor="middle" fill="#1e1e1e" font-weight="normal" stroke="#1e1e1e" stroke-width="0.18" textLength="25.8" lengthAdjust="spacingAndGlyphs" >CD45+</text>
<text x="94.4" y="168.2" font-size="8.3" text-anchor="middle" fill="#1e1e1e" font-weight="normal" stroke="#1e1e1e" stroke-width="0.18" textLength="21.8" lengthAdjust="spacingAndGlyphs" >CD45-</text>
<text x="156.8" y="155.0" font-size="8.5" text-anchor="end" fill="#1e1e1e" font-weight="normal" stroke="#1e1e1e" stroke-width="0.18" >0</text>
<text x="156.8" y="118.4" font-size="8.5" text-anchor="end" fill="#1e1e1e" font-weight="normal" stroke="#1e1e1e" stroke-width="0.18" >1</text>
<text x="156.8" y="81.8" font-size="8.5" text-anchor="end" fill="#1e1e1e" font-weight="normal" stroke="#1e1e1e" stroke-width="0.18" >2</text>
<text x="156.8" y="45.19999999999999" font-size="8.5" text-anchor="end" fill="#1e1e1e" font-weight="normal" stroke="#1e1e1e" stroke-width="0.18" >3</text>
<text x="181.8" y="29.2" font-size="7.5" text-anchor="start" fill="#1e1e1e" font-weight="normal" stroke="#1e1e1e" stroke-width="0.1" textLength="13.1" lengthAdjust="spacingAndGlyphs" >PBS</text>
<text x="181.8" y="39.9" font-size="7.5" text-anchor="start" fill="#1e1e1e" font-weight="normal" stroke="#1e1e1e" stroke-width="0.1" textLength="44.3" lengthAdjust="spacingAndGlyphs" >Isoproterenol</text>
<text transform="translate(147.2,142.9) rotate(-90)" x="0" y="0" font-size="9.8" fill="#1e1e1e" stroke="#1e1e1e" stroke-width="0.18" textLength="43.50" lengthAdjust="spacingAndGlyphs">FGF23 mRNA</text>
<text transform="translate(147.2,98.2) rotate(-90)" x="0" y="0" font-size="9.8" fill="#1e1e1e" stroke="#1e1e1e" stroke-width="0.18" textLength="51.20" lengthAdjust="spacingAndGlyphs">(arbitrary unit)</text>
<text x="180.7" y="167.8" font-size="8.3" text-anchor="middle" fill="#1e1e1e" font-weight="normal" stroke="#1e1e1e" stroke-width="0.18" textLength="25.4" lengthAdjust="spacingAndGlyphs" >CD45+</text>
<text x="211.5" y="167.8" font-size="8.3" text-anchor="middle" fill="#1e1e1e" font-weight="normal" stroke="#1e1e1e" stroke-width="0.18" textLength="23.3" lengthAdjust="spacingAndGlyphs" >CD45-</text>
<text x="308.8" y="29.1" font-size="7.5" text-anchor="start" fill="#1e1e1e" font-weight="normal" stroke="#1e1e1e" stroke-width="0.1" textLength="13.5" lengthAdjust="spacingAndGlyphs" >PBS</text>
<text x="308.8" y="39.5" font-size="7.5" text-anchor="start" fill="#1e1e1e" font-weight="normal" stroke="#1e1e1e" stroke-width="0.1" textLength="22" lengthAdjust="spacingAndGlyphs" >G-CSF</text>
<text x="308.8" y="50.1" font-size="7.5" text-anchor="start" fill="#1e1e1e" font-weight="normal" stroke="#1e1e1e" stroke-width="0.1" textLength="44.6" lengthAdjust="spacingAndGlyphs" >Isoproterenol</text>
<text transform="translate(264.4,145.8) rotate(-90)" x="0" y="0" font-size="9.8" fill="#1e1e1e" stroke="#1e1e1e" stroke-width="0.18" textLength="44.00" lengthAdjust="spacingAndGlyphs">FGF23 mRNA</text>
<text transform="translate(264.4,100.6) rotate(-90)" x="0" y="0" font-size="9.8" fill="#1e1e1e" stroke="#1e1e1e" stroke-width="0.18" textLength="50.00" lengthAdjust="spacingAndGlyphs">(arbitrary unit)</text>
<text x="279.0" y="52.0" font-size="8.5" text-anchor="end" fill="#1e1e1e" font-weight="normal" stroke="#1e1e1e" stroke-width="0.18" >60</text>
<text x="279.0" y="71.18" font-size="8.5" text-anchor="end" fill="#1e1e1e" font-weight="normal" stroke="#1e1e1e" stroke-width="0.18" >50</text>
<text x="279.0" y="90.36" font-size="8.5" text-anchor="end" fill="#1e1e1e" font-weight="normal" stroke="#1e1e1e" stroke-width="0.18" >40</text>
<text x="279.0" y="107.31" font-size="8.5" text-anchor="end" fill="#1e1e1e" font-weight="normal" stroke="#1e1e1e" stroke-width="0.18" >3</text>
<text x="279.0" y="123.14000000000001" font-size="8.5" text-anchor="end" fill="#1e1e1e" font-weight="normal" stroke="#1e1e1e" stroke-width="0.18" >2</text>
<text x="279.0" y="138.97" font-size="8.5" text-anchor="end" fill="#1e1e1e" font-weight="normal" stroke="#1e1e1e" stroke-width="0.18" >1</text>
<text x="279.0" y="154.8" font-size="8.5" text-anchor="end" fill="#1e1e1e" font-weight="normal" stroke="#1e1e1e" stroke-width="0.18" >0</text>
<text x="308.3" y="166.5" font-size="8.4" text-anchor="middle" fill="#1e1e1e" font-weight="normal" stroke="#1e1e1e" stroke-width="0.18" textLength="25.8" lengthAdjust="spacingAndGlyphs" >CD45+</text>
<text x="360.8" y="166.4" font-size="8.4" text-anchor="middle" fill="#1e1e1e" font-weight="normal" stroke="#1e1e1e" stroke-width="0.18" textLength="23.1" lengthAdjust="spacingAndGlyphs" >CD45-</text>
<text x="360.8" y="175.8" font-size="8.4" text-anchor="middle" fill="#1e1e1e" font-weight="normal" stroke="#1e1e1e" stroke-width="0.18" textLength="55.4" lengthAdjust="spacingAndGlyphs" >Ter119+CD71+</text>
<text x="414" y="166.4" font-size="8.4" text-anchor="middle" fill="#1e1e1e" font-weight="normal" stroke="#1e1e1e" stroke-width="0.18" textLength="23.1" lengthAdjust="spacingAndGlyphs" >CD45-</text>
<text x="414.1" y="175.7" font-size="8.4" text-anchor="middle" fill="#1e1e1e" font-weight="normal" stroke="#1e1e1e" stroke-width="0.18" textLength="25.6" lengthAdjust="spacingAndGlyphs" >Ter119-</text>
<text x="40.9" y="325.2" font-size="8.5" text-anchor="end" fill="#1e1e1e" font-weight="normal" stroke="#1e1e1e" stroke-width="0.18" >0</text>
<text x="40.9" y="294.5" font-size="8.5" text-anchor="end" fill="#1e1e1e" font-weight="normal" stroke="#1e1e1e" stroke-width="0.18" >5</text>
<text x="40.9" y="263.8" font-size="8.5" text-anchor="end" fill="#1e1e1e" font-weight="normal" stroke="#1e1e1e" stroke-width="0.18" >10</text>
<text x="40.9" y="233.1" font-size="8.5" text-anchor="end" fill="#1e1e1e" font-weight="normal" stroke="#1e1e1e" stroke-width="0.18" >15</text>
<text transform="translate(26.8,310.3) rotate(-90)" x="0" y="0" font-size="9.8" fill="#1e1e1e" stroke="#1e1e1e" stroke-width="0.18" textLength="24.70" lengthAdjust="spacingAndGlyphs">iFGF23</text>
<text transform="translate(26.8,284.8) rotate(-90)" x="0" y="0" font-size="9.8" fill="#1e1e1e" stroke="#1e1e1e" stroke-width="0.18" textLength="22.00" lengthAdjust="spacingAndGlyphs">(pg/10</text>
<text transform="translate(23.5,262.6) rotate(-90)" x="0" y="0" font-size="6.4" fill="#1e1e1e" stroke="#1e1e1e" stroke-width="0.18" textLength="3.60" lengthAdjust="spacingAndGlyphs">7</text>
<text transform="translate(26.8,256.0) rotate(-90)" x="0" y="0" font-size="9.8" fill="#1e1e1e" stroke="#1e1e1e" stroke-width="0.18" textLength="16.80" lengthAdjust="spacingAndGlyphs">Ebls)</text>
<text x="63.6" y="332.3" font-size="8.4" text-anchor="middle" fill="#1e1e1e" font-weight="normal" stroke="#1e1e1e" stroke-width="0.18" textLength="31.8" lengthAdjust="spacingAndGlyphs" >PBS/BSA</text>
<text x="98.1" y="332.3" font-size="8.4" text-anchor="middle" fill="#1e1e1e" font-weight="normal" stroke="#1e1e1e" stroke-width="0.18" textLength="23.2" lengthAdjust="spacingAndGlyphs" >G-CSF</text>
<text x="132.5" y="332.1" font-size="8.4" text-anchor="middle" fill="#1e1e1e" font-weight="normal" stroke="#1e1e1e" stroke-width="0.18" textLength="13.8" lengthAdjust="spacingAndGlyphs" >PBS</text>
<text x="169.8" y="332.1" font-size="8.4" text-anchor="middle" fill="#1e1e1e" font-weight="normal" stroke="#1e1e1e" stroke-width="0.18" textLength="47.6" lengthAdjust="spacingAndGlyphs" >Isoproterenol</text>
<text x="245.4" y="325.2" font-size="8.5" text-anchor="end" fill="#1e1e1e" font-weight="normal" stroke="#1e1e1e" stroke-width="0.18" >0</text>
<text x="245.4" y="294.5" font-size="8.5" text-anchor="end" fill="#1e1e1e" font-weight="normal" stroke="#1e1e1e" stroke-width="0.18" >5</text>
<text x="245.4" y="263.8" font-size="8.5" text-anchor="end" fill="#1e1e1e" font-weight="normal" stroke="#1e1e1e" stroke-width="0.18" >10</text>
<text x="245.4" y="233.1" font-size="8.5" text-anchor="end" fill="#1e1e1e" font-weight="normal" stroke="#1e1e1e" stroke-width="0.18" >15</text>
<text transform="translate(231.4,310.6) rotate(-90)" x="0" y="0" font-size="9.8" fill="#1e1e1e" stroke="#1e1e1e" stroke-width="0.18" textLength="25.00" lengthAdjust="spacingAndGlyphs">cFGF23</text>
<text transform="translate(231.4,284.6) rotate(-90)" x="0" y="0" font-size="9.8" fill="#1e1e1e" stroke="#1e1e1e" stroke-width="0.18" textLength="21.80" lengthAdjust="spacingAndGlyphs">(pg/10</text>
<text transform="translate(228.1,262.6) rotate(-90)" x="0" y="0" font-size="6.4" fill="#1e1e1e" stroke="#1e1e1e" stroke-width="0.18" textLength="3.60" lengthAdjust="spacingAndGlyphs">7</text>
<text transform="translate(231.4,256.0) rotate(-90)" x="0" y="0" font-size="9.8" fill="#1e1e1e" stroke="#1e1e1e" stroke-width="0.18" textLength="16.80" lengthAdjust="spacingAndGlyphs">Ebls)</text>
<text x="268" y="332.3" font-size="8.4" text-anchor="middle" fill="#1e1e1e" font-weight="normal" stroke="#1e1e1e" stroke-width="0.18" textLength="32.5" lengthAdjust="spacingAndGlyphs" >PBS/BSA</text>
<text x="302.3" y="332.3" font-size="8.4" text-anchor="middle" fill="#1e1e1e" font-weight="normal" stroke="#1e1e1e" stroke-width="0.18" textLength="22.4" lengthAdjust="spacingAndGlyphs" >G-CSF</text>
<text x="337" y="332.1" font-size="8.4" text-anchor="middle" fill="#1e1e1e" font-weight="normal" stroke="#1e1e1e" stroke-width="0.18" textLength="14" lengthAdjust="spacingAndGlyphs" >PBS</text>
<text x="374.4" y="332.1" font-size="8.4" text-anchor="middle" fill="#1e1e1e" font-weight="normal" stroke="#1e1e1e" stroke-width="0.18" textLength="47.7" lengthAdjust="spacingAndGlyphs" >Isoproterenol</text>
<text x="450.2" y="325.6" font-size="8.5" text-anchor="end" fill="#1e1e1e" font-weight="normal" stroke="#1e1e1e" stroke-width="0.18" >0</text>
<text x="450.2" y="302.40000000000003" font-size="8.5" text-anchor="end" fill="#1e1e1e" font-weight="normal" stroke="#1e1e1e" stroke-width="0.18" >20</text>
<text x="450.2" y="279.20000000000005" font-size="8.5" text-anchor="end" fill="#1e1e1e" font-weight="normal" stroke="#1e1e1e" stroke-width="0.18" >40</text>
<text x="450.2" y="256.0" font-size="8.5" text-anchor="end" fill="#1e1e1e" font-weight="normal" stroke="#1e1e1e" stroke-width="0.18" >60</text>
<text x="450.2" y="232.8" font-size="8.5" text-anchor="end" fill="#1e1e1e" font-weight="normal" stroke="#1e1e1e" stroke-width="0.18" >80</text>
<text x="450.2" y="209.60000000000002" font-size="8.5" text-anchor="end" fill="#1e1e1e" font-weight="normal" stroke="#1e1e1e" stroke-width="0.18" >100</text>
<text transform="translate(431.0,289.0) rotate(-90)" x="0" y="0" font-size="9.8" fill="#1e1e1e" stroke="#1e1e1e" stroke-width="0.18" textLength="21.70" lengthAdjust="spacingAndGlyphs">iFGF23</text>
<text transform="translate(431.0,266.6) rotate(-90)" x="0" y="0" font-size="9.8" fill="#1e1e1e" stroke="#1e1e1e" stroke-width="0.18" textLength="30.00" lengthAdjust="spacingAndGlyphs">(pg/mL)</text>
<text x="456.1" y="334.6" font-size="8.4" text-anchor="start" fill="#1e1e1e" font-weight="normal" stroke="#1e1e1e" stroke-width="0.18" textLength="27.2" lengthAdjust="spacingAndGlyphs" >O<tspan dy="2" font-size="6">2</tspan><tspan dy="-2"> 21%</tspan></text>
<text x="498.3" y="334.6" font-size="8.4" text-anchor="middle" fill="#1e1e1e" font-weight="normal" stroke="#1e1e1e" stroke-width="0.18" textLength="11.1" lengthAdjust="spacingAndGlyphs" >5%</text>
<rect x="0.5" y="0.5" width="519" height="344.5" fill="none" stroke="#000" stroke-width="1.1"/>
<line x1="0" y1="345.5" x2="520" y2="345.5" stroke="#000" stroke-width="1"/>
</svg></body></html>
